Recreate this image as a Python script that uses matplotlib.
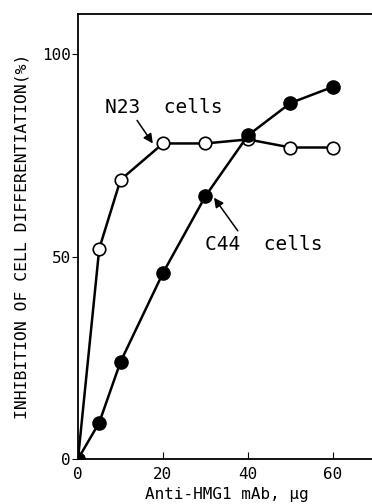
import matplotlib
matplotlib.use("Agg")
import matplotlib.pyplot as plt

# antibody dose (ug)
dose = [0, 5, 10, 20, 30, 40, 50, 60]
# inhibition of differentiation (%)
n23 = [0, 52, 69, 78, 78, 79, 77, 77]
c44 = [0, 9, 24, 46, 65, 80, 88, 92]

plt.rcParams['font.family'] = ['DejaVu Sans Mono', 'DejaVu Sans']

fig = plt.figure(figsize=(3.72, 5.04), dpi=100)
ax = fig.add_axes([78 / 372, 45 / 504, 297.5 / 372, 445 / 504])

ax.plot(dose, n23, '-o', color='black', mfc='white', mec='black', ms=9, mew=1.2, lw=1.8)
ax.plot(dose, c44, '-o', color='black', mfc='black', mec='black', ms=9.5, lw=1.8)

ax.set_xlim(0, 70)
ax.set_ylim(0, 110)
ax.set_xticks([0, 20, 40, 60])
ax.set_yticks([0, 50, 100])
ax.tick_params(axis='x', direction='in', length=5, labelsize=11.5, pad=6)
ax.tick_params(axis='y', direction='out', length=4, labelsize=11.5, pad=1)
for s in ax.spines.values():
    s.set_linewidth(1.3)

ax.set_xlabel('Anti-HMG1 mAb, \u03bcg', fontsize=11.5, labelpad=3)
ax.set_ylabel('INHIBITION OF CELL DIFFERENTIATION(%)', fontsize=11.8, labelpad=9)

arrow = dict(arrowstyle='-|>', color='black', lw=1.1, shrinkA=0, shrinkB=0,
             mutation_scale=14)
ax.text(6.4, 87, 'N23  cells', fontsize=14, ha='left', va='center')
ax.annotate('', xy=(17.6, 78.0), xytext=(13.9, 83.7), arrowprops=arrow)
ax.text(29.9, 53, 'C44  cells', fontsize=14, ha='left', va='center')
ax.annotate('', xy=(32.0, 64.6), xytext=(37.6, 56.4), arrowprops=arrow)

fig.savefig('out.png', dpi=100)
